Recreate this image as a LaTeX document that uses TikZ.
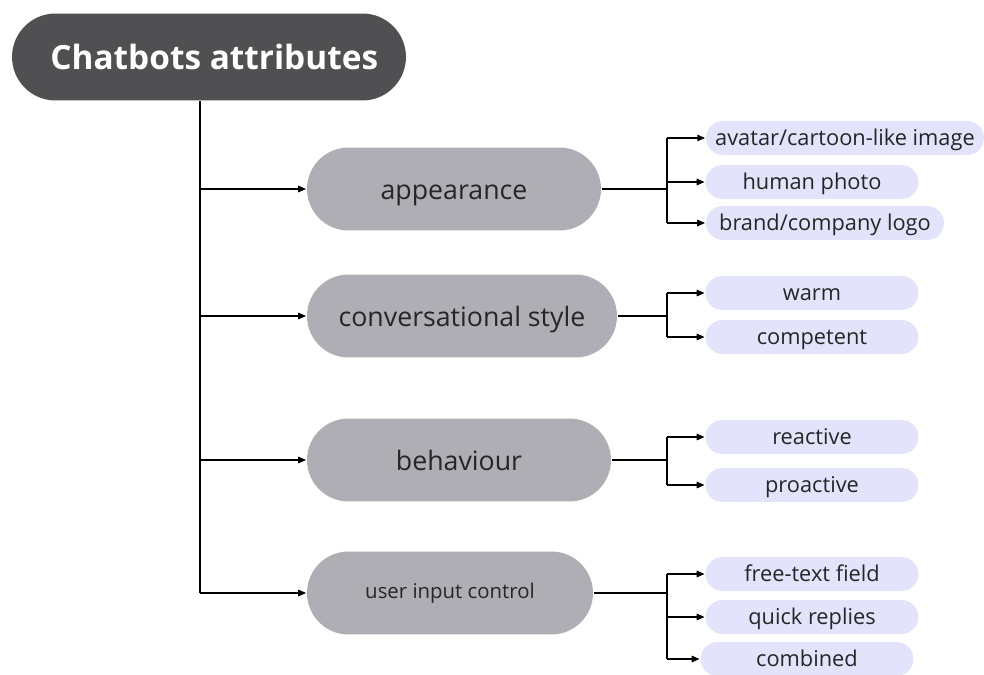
\documentclass[tikz,border=0pt]{standalone}
\usepackage{fontspec}
\setmainfont{Open Sans}
\usetikzlibrary{arrows.meta}
\definecolor{titlegray}{HTML}{505052}
\definecolor{pillgray}{HTML}{AEAEB4}
\definecolor{leaflav}{HTML}{E3E3FB}
\begin{document}
\begin{tikzpicture}[x=0.02cm,y=-0.02cm,line width=1pt,
    titlebox/.style={rectangle,fill=titlegray,text=white,font=\fontsize{19}{22}\selectfont\bfseries,
        minimum width=7.88cm,minimum height=1.74cm,rounded corners=0.87cm,text height=14.5pt,text depth=0pt},
    attrbox/.style={rectangle,fill=pillgray,text=black!85,font=\fontsize{15.2}{18}\selectfont,
        minimum height=1.66cm,rounded corners=0.83cm,text height=11.4pt,text depth=0pt},
    leafbox/.style={rectangle,fill=leaflav,text=black!85,font=\fontsize{12.4}{14}\selectfont,
        minimum width=4.26cm,minimum height=0.68cm,rounded corners=0.34cm,inner sep=0pt,
        text height=9pt,text depth=0pt},
    arr/.style={-{Triangle[length=4.5pt,width=3.6pt]}}]
    \useasboundingbox (0,0) rectangle (984,675);
    % title
    \node[titlebox] (title) at (209,57) {\hspace*{6pt}Chatbots attributes};
    % attributes
    \node[attrbox,minimum width=5.88cm] (app) at (454,189) {appearance};
    \node[attrbox,minimum width=6.20cm] (conv) at (462,316) {conversational style};
    \node[attrbox,minimum width=6.08cm] (behav) at (459,460) {behaviour};
    \node[attrbox,minimum width=5.72cm,font=\fontsize{11.6}{14}\selectfont,text height=6.8pt] (uic) at (450,593) {user input control};
    % leaves
    \node[leafbox,minimum width=5.56cm] (avatar) at (845,138) {avatar/cartoon-like image};
    \node[leafbox] (photo) at (812,182) {human photo};
    \node[leafbox,minimum width=4.76cm] (logo) at (825,223) {brand/company logo};
    \node[leafbox] (warm) at (812,293) {warm};
    \node[leafbox] (compet) at (812,337) {competent};
    \node[leafbox] (react) at (812,437) {reactive};
    \node[leafbox] (proact) at (812,485) {proactive};
    \node[leafbox] (free) at (812,574) {free-text field};
    \node[leafbox] (quick) at (812,617) {quick replies};
    \node[leafbox] (comb) at (807,659) {combined};
    % trunk
    \coordinate (tk) at (200,0);
    \coordinate (fk) at (667,0);
    \draw (tk |- title.south) -- (tk |- uic.west);
    \foreach \a in {app,conv,behav,uic}
        \draw[arr] (tk |- \a.west) -- (\a.west);
    % fans
    \draw (app.east) -- (app.east -| fk);
    \draw (fk |- avatar.west) -- (fk |- logo.west);
    \foreach \l in {avatar,photo,logo}
        \draw[arr] (fk |- \l.west) -- (\l.west);
    \draw (conv.east) -- (conv.east -| fk);
    \draw (fk |- warm.west) -- (fk |- compet.west);
    \foreach \l in {warm,compet}
        \draw[arr] (fk |- \l.west) -- (\l.west);
    \draw (behav.east) -- (behav.east -| fk);
    \draw (fk |- react.west) -- (fk |- proact.west);
    \foreach \l in {react,proact}
        \draw[arr] (fk |- \l.west) -- (\l.west);
    \draw (uic.east) -- (uic.east -| fk);
    \draw (fk |- free.west) -- (fk |- comb.west);
    \foreach \l in {free,quick,comb}
        \draw[arr] (fk |- \l.west) -- (\l.west);
\end{tikzpicture}
\end{document}
